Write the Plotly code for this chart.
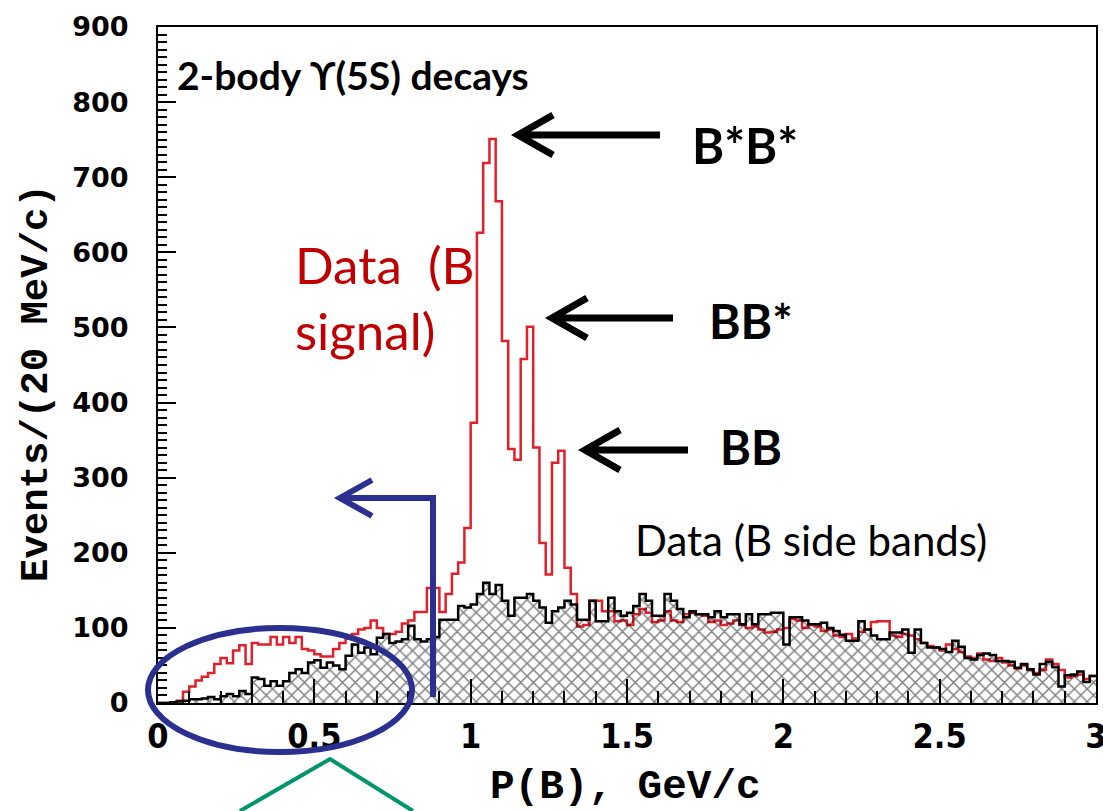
import numpy as np
import plotly.graph_objects as go

# ---------------- data (20 MeV/c bins from 0 to 3 GeV/c) ----------------
BIN_START = 0.0
BIN_WIDTH = 0.02

signal_counts = [
    0, 0, 1, 3, 15, 22, 30, 35, 40, 52, 60, 53, 70, 77, 52, 80, 78, 78, 88, 78, 88, 80, 88, 72,
    70, 65, 62, 62, 72, 80, 86, 92, 98, 100, 110, 100, 92, 92, 95, 106, 110, 121, 121, 153, 153,
    121, 145, 172, 187,
    233, 373, 626, 719, 751, 668, 482, 338, 324, 458, 501, 340, 213, 171, 320, 336, 180, 145,
    102, 104, 136, 136, 122, 122, 109,
    110, 104, 118, 125, 120, 108, 110, 122, 110, 108, 118, 120, 118, 116, 108, 110, 104, 106,
    110, 104, 100, 102, 98, 94,
    95, 98, 100, 112, 110, 100, 104, 102, 96, 98, 90, 88, 92, 86, 95, 98, 108, 109, 109, 90,
    88, 92, 90, 85, 80, 76, 74, 70, 78, 72, 68, 62, 60, 66, 58, 56, 60, 54, 50, 46, 50, 44,
    40, 44, 58, 52, 44, 34, 36, 38, 32, 36,
]

sideband_counts = [
    0, 0, 1, 2, 3, 5, 5, 6, 8, 5, 9, 12, 9, 16, 12, 34, 32, 23, 29, 23, 29, 40, 45, 40, 54,
    57, 47, 54, 50, 45, 63, 78, 67, 74, 65, 87, 92, 80, 82, 85, 103, 85, 82, 85, 88, 111, 111,
    111, 129,
    127, 131, 145, 160, 145, 157, 136, 116, 140, 140, 145, 136, 127, 107, 122, 127, 136, 131,
    111, 111, 136, 109, 109, 140, 122,
    116, 120, 129, 145, 136, 116, 116, 145, 136, 125, 114, 122, 118, 118, 114, 122, 114, 118,
    118, 105, 118, 105, 118, 118,
    120, 120, 78, 114, 114, 110, 105, 105,
    107, 100, 96, 91, 83, 83, 109, 98, 90, 85, 85, 94, 94, 98, 67, 98, 80, 74, 74, 72, 68, 83,
    75, 60, 58, 64, 66, 64, 56, 56, 55, 47, 52, 45, 38, 52, 55, 48, 22, 37, 38, 42, 28, 36,
]

x_tick_values = [0, 0.5, 1, 1.5, 2, 2.5, 3]
x_tick_labels = ["0", "0.5", "1", "1.5", "2", "2.5", "3"]
y_tick_values = [0, 100, 200, 300, 400, 500, 600, 700, 800, 900]

# ---------------- build step histograms ----------------
n_bins = len(signal_counts)
edges = BIN_START + BIN_WIDTH * np.arange(n_bins + 1)
sig_y = list(signal_counts) + [signal_counts[-1]]
sb_y = list(sideband_counts) + [sideband_counts[-1]]

fig = go.Figure()
fig.add_trace(go.Scatter(
    x=edges, y=sig_y, mode="lines",
    line=dict(color="#e0202a", width=2.5, shape="hv"),
    showlegend=False, hoverinfo="skip",
))
fig.add_trace(go.Scatter(
    x=edges, y=sb_y, mode="lines",
    line=dict(color="black", width=2.5, shape="hv"),
    fill="tozeroy", fillcolor="rgba(0,0,0,0)",
    fillpattern=dict(shape="x", fgcolor="black", bgcolor="rgba(0,0,0,0)",
                     size=9, solidity=0.3),
    showlegend=False, hoverinfo="skip",
))

# ---------------- layout ----------------
L, R, T, B = 158, 7, 27, 108
W, H = 1103, 811
PW, PH = W - L - R, H - T - B


def px(xpix):
    return (xpix - L) / PW


def py(ypix):
    return (H - B - ypix) / PH


fig.update_layout(
    width=W, height=H,
    margin=dict(l=L, r=R, t=T, b=B, autoexpand=False),
    paper_bgcolor="white", plot_bgcolor="white",
    showlegend=False,
    xaxis=dict(
        range=[0, 3], tickvals=x_tick_values, ticktext=x_tick_labels,
        ticks="inside", ticklen=24, tickwidth=2, tickcolor="black",
        showline=True, linecolor="black", linewidth=2, mirror=True,
        showgrid=False, zeroline=False, automargin=False,
        minor=dict(dtick=0.1, ticks="inside", ticklen=12, tickwidth=1.5, tickcolor="black"),
        tickfont=dict(family="Liberation Sans Narrow, DejaVu Sans Condensed, Arial Narrow, sans-serif",
                      size=34, color="black", weight="bold"),
        ticklabelstandoff=2, ticklabeloverflow="allow",
    ),
    yaxis=dict(
        range=[0, 900], tickvals=y_tick_values,
        ticks="inside", ticklen=18, tickwidth=2, tickcolor="black",
        showline=True, linecolor="black", linewidth=2, mirror=True,
        showgrid=False, zeroline=False, automargin=False,
        minor=dict(dtick=10, ticks="inside", ticklen=9, tickwidth=1.5, tickcolor="black"),
        tickfont=dict(family="DejaVu Sans, sans-serif", size=27, color="black", weight="bold"),
        ticklabelstandoff=22,
    ),
)

mono = "Liberation Mono, DejaVu Sans Mono, Courier New, monospace"
calib = "Lato, Open Sans, sans-serif"
annotations = [
    dict(text="Events/(20 MeV/c)", x=px(37), y=py(383), textangle=-90,
         font=dict(family=mono, size=39, color="black", weight="bold")),
    dict(text="P(B), GeV/c", x=px(625), y=py(787),
         font=dict(family=mono, size=41, color="black", weight="bold")),
    dict(text="2-body \u03d2(5S) decays", x=px(175), y=py(75), xanchor="left",
         font=dict(family=calib, size=39, color="black", weight="bold")),
    dict(text="B*B*", x=px(745), y=py(145),
         font=dict(family=calib, size=49, color="black", weight="bold")),
    dict(text="BB*", x=px(751), y=py(320),
         font=dict(family=calib, size=48, color="black", weight="bold")),
    dict(text="BB", x=px(751), y=py(447),
         font=dict(family=calib, size=47, color="black", weight="bold")),
    dict(text="Data\u00a0\u00a0(B<br>signal)", x=px(293), y=py(297), xanchor="left", align="left",
         font=dict(family=calib, size=51, color="#c00000")),
    dict(text="Data (B side bands)", x=px(811), y=py(540),
         font=dict(family=calib, size=42, color="black")),
]
for a in annotations:
    a.update(xref="paper", yref="paper", showarrow=False)
    a.setdefault("xanchor", "center")
    a.setdefault("yanchor", "middle")
fig.update_layout(annotations=annotations)


def arrow_path(tip_x, tail_x, y, arm_dx, arm_dy):
    return (f"M {px(tail_x)},{py(y)} L {px(tip_x)},{py(y)} "
            f"M {px(tip_x + arm_dx)},{py(y - arm_dy)} L {px(tip_x)},{py(y)} "
            f"L {px(tip_x + arm_dx)},{py(y + arm_dy)}")


shapes = []
for tip, tail, yy in [(518, 660, 135), (552, 673, 318), (585, 688, 450)]:
    shapes.append(dict(type="path", path=arrow_path(tip, tail, yy, 35, 20),
                       xref="paper", yref="paper",
                       line=dict(color="black", width=7)))
blue = "#2b3090"
shapes.append(dict(type="path",
                   path=(f"M {px(433)},{py(697)} L {px(433)},{py(498)} L {px(340)},{py(498)} "
                         f"M {px(372)},{py(480)} L {px(340)},{py(498)} L {px(372)},{py(516)}"),
                   xref="paper", yref="paper", line=dict(color=blue, width=6)))
shapes.append(dict(type="circle", xref="paper", yref="paper",
                   x0=px(148), x1=px(412), y0=py(752), y1=py(628),
                   line=dict(color=blue, width=6)))
green = "#00956c"
shapes.append(dict(type="path",
                   path=f"M {px(240)},{py(811)} L {px(330)},{py(759)} L {px(413)},{py(811)}",
                   xref="paper", yref="paper", line=dict(color=green, width=4)))
fig.update_layout(shapes=shapes)

fig.write_html("out.html")
